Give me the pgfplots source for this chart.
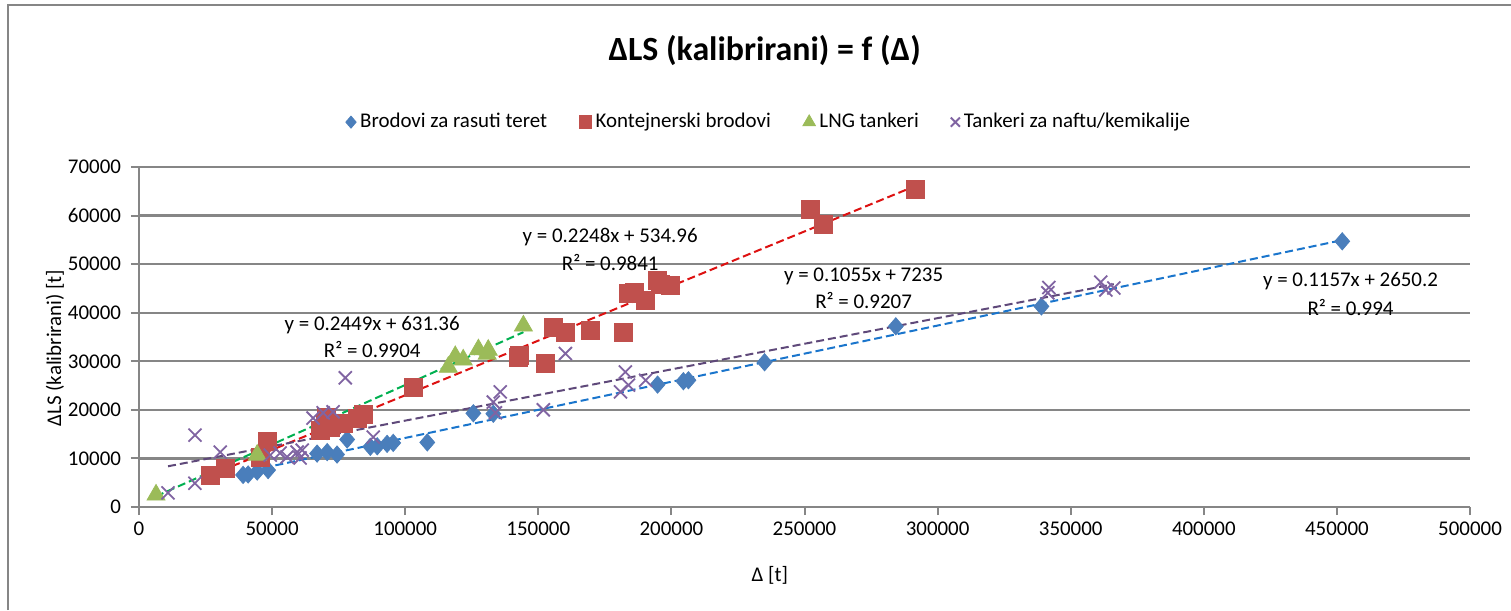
\documentclass[border=0pt]{standalone}
\usepackage{fontspec}
\setmainfont{Carlito}
\usepackage{pgfplots}
\pgfplotsset{compat=1.18}

\definecolor{cblue}{HTML}{4A7EBB}
\definecolor{cred}{HTML}{C0504D}
\definecolor{cgreen}{HTML}{9BBB59}
\definecolor{cpurple}{HTML}{8064A2}
\definecolor{tblue}{HTML}{1A75CC}
\definecolor{tred}{HTML}{DD1111}
\definecolor{tgreen}{HTML}{00B050}
\definecolor{tpurple}{HTML}{5F497A}
\definecolor{gridgray}{HTML}{868686}

\begin{document}
\begin{tikzpicture}[x=1bp,y=1bp]
\useasboundingbox (0,0) rectangle (755.5,305);
\draw[gridgray, line width=0.8bp] (4,0) -- (4,302.5) -- (755.5,302.5);
\begin{axis}[
  at={(69.5bp,51.5bp)}, anchor=south west,
  scale only axis, width=665.5bp, height=170bp,
  xmin=0, xmax=500000, ymin=0, ymax=70000,
  xtick={0,50000,...,500000}, ytick={0,10000,...,70000},
  scaled ticks=false,
  /pgf/number format/fixed, /pgf/number format/precision=0,
  /pgf/number format/1000 sep={}, /pgf/number format/assume math mode=true,
  axis x line=bottom, axis y line=left,
  axis line style={-, draw=gridgray, line width=1bp},
  tick style={draw=gridgray, line width=1bp},
  tick align=outside, major tick length=4bp,
  ymajorgrids, major grid style={draw=gridgray, line width=1.1bp},
  ticklabel style={font=\fontsize{10.5}{12}\selectfont},
  yticklabel style={xshift=-1.5bp},
  xlabel={Δ [t]}, ylabel={ΔLS (kalibrirani) [t]},
  label style={font=\fontsize{10.5}{12}\selectfont},
  xlabel style={at={(axis description cs:0.474,-0.2)}, anchor=center},
  ylabel style={at={(axis description cs:-0.0631,0.468)}, anchor=center},
  title={\bfseries ΔLS (kalibrirani) = f (Δ)},
  title style={at={(axis description cs:0.47,1.309)}, anchor=center, font=\fontsize{17}{20}\selectfont},
  legend columns=4, legend cell align=left,
  legend image post style={scale=0.7},
  legend style={at={(0.474,1.132)}, anchor=center, draw=none, font=\fontsize{10.5}{12}\selectfont,
    /tikz/every even column/.append style={column sep=14bp}},
]
% Brodovi za rasuti teret
\addplot[only marks, mark=diamond*, mark size=4.3bp, mark options={xscale=1.15}, color=cblue] coordinates {
 (39100,6600) (41000,6700) (44400,7300) (48500,7600) (66900,11000) (70700,11300)
 (74400,10800) (78200,13900) (86900,12400) (89500,12500) (93200,13000) (95500,13200)
 (108300,13300) (125600,19300) (133100,19200) (194800,25200) (204500,25900) (206400,26100)
 (235000,29800) (284300,37200) (339000,41300) (452000,54700)
};
\addlegendentry{Brodovi za rasuti teret}
% Kontejnerski brodovi
\addplot[only marks, mark=square*, mark size=4.5bp, color=cred] coordinates {
 (26700,6600) (32300,8000) (45500,10300) (48100,13500) (68000,15700) (70000,17000)
 (71800,16300) (70500,18500) (76700,17300) (82000,18300) (84200,19000) (103000,24700)
 (142500,30700) (143000,31200) (152700,29600) (155700,36900) (160200,36000) (169600,36400)
 (182000,36000) (183900,44000) (186000,44200) (190300,42600) (194800,46700) (196000,45800)
 (199700,45700) (252300,61200) (257200,58100) (291800,65300)
};
\addlegendentry{Kontejnerski brodovi}
% LNG tankeri
\addplot[only marks, mark=triangle*, mark size=5.2bp, color=cgreen] coordinates {
 (6400,2500) (44400,10700) (116200,28800) (118800,31000) (121800,30300) (127500,32400)
 (130800,31500) (131200,32300) (144400,37300)
};
\addlegendentry{LNG tankeri}
% Tankeri za naftu/kemikalije
\addplot[only marks, mark=x, mark size=4.6bp, color=cpurple, line width=0.9bp] coordinates {
 (10900,2900) (21000,4900) (21000,14800) (30500,11300) (49300,10700) (53000,11100)
 (55600,10300) (59400,11300) (61300,11700) (60500,10100) (65400,18300) (69200,19400)
 (72900,19600) (77500,26600) (88000,14400) (133100,21600) (133900,19400) (135700,23700)
 (151900,20000) (160200,31600) (180900,23700) (182700,27800) (183900,25100) (190300,26100)
 (341400,44100) (341800,45200) (361300,46300) (363200,44700) (366200,45100)
};
\addlegendentry{Tankeri za naftu/kemikalije}
% trendlines (end points of the linear fits)
\addplot[forget plot, tblue, line width=1bp, dash pattern=on 4bp off 2bp] coordinates {(38000,7047) (452000,54946)};
\addplot[forget plot, tred, line width=1bp, dash pattern=on 4bp off 2bp] coordinates {(26700,6537) (291800,66131)};
\addplot[forget plot, tgreen, line width=1bp, dash pattern=on 4bp off 2bp] coordinates {(6400,2199) (144400,35995)};
\addplot[forget plot, tpurple, line width=1bp, dash pattern=on 4bp off 2bp] coordinates {(10900,8385) (366200,45869)};
% equations
\begin{scope}[every node/.style={anchor=base, font=\fontsize{10.5}{12}\selectfont, inner sep=0pt}]
\node at (axis cs:177000,54360) {y = 0.2248x + 534.96};
\node at (axis cs:177000,48600) {R² = 0.9841};
\node at (axis cs:87600,36440) {y = 0.2449x + 631.36};
\node at (axis cs:87600,30680) {R² = 0.9904};
\node at (axis cs:272200,46530) {y = 0.1055x + 7235};
\node at (axis cs:272200,40770) {R² = 0.9207};
\node at (axis cs:455100,45300) {y = 0.1157x + 2650.2};
\node at (axis cs:455100,39530) {R² = 0.994};
\end{scope}
\end{axis}
\end{tikzpicture}
\end{document}
